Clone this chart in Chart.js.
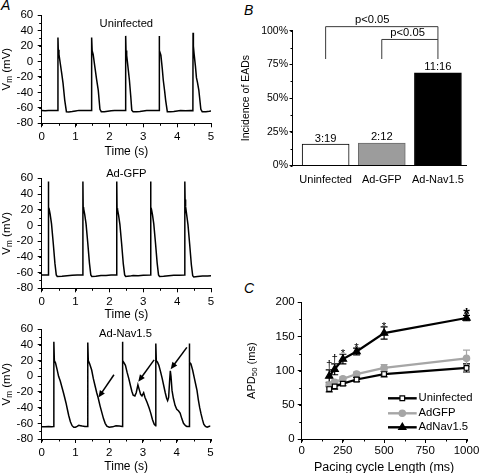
<!DOCTYPE html>
<html>
<head>
<meta charset="utf-8">
<script src="https://cdn.jsdelivr.net/npm/chart.js@4.4.1/dist/chart.umd.min.js"></script>
<style>
  html, body { margin: 0; padding: 0; background: #fff; overflow: hidden; }
  body { width: 480px; height: 473px; position: relative; font-family: "Liberation Sans", Arial, sans-serif; }
  canvas { position: absolute; }
  .panel { position: absolute; font-style: italic; font-size: 14px; line-height: 14px; }
</style>
</head>
<body>
<div class="panel" style="left:1px;top:-2px">A</div>
<div class="panel" style="left:244px;top:3px">B</div>
<div class="panel" style="left:244px;top:281px">C</div>
<canvas id="apUninfected"></canvas>
<canvas id="apGfp"></canvas>
<canvas id="apNav"></canvas>
<canvas id="eadBars"></canvas>
<canvas id="apdCurve"></canvas>
<script>
const FONT = '"Liberation Sans", Arial, sans-serif';

// membrane potential traces, [time (s), Vm (mV)]
const uninfectedTrace = [
  [0, -63.5], [0.1, -63.8], [0.2, -63.3], [0.3, -63.6], [0.4, -63.4], [0.475, -63.6],
  [0.48, 31], [0.49, 15], [0.51, 9], [0.55, -3], [0.59, -15], [0.63, -28], [0.68, -50], [0.73, -65],
  [0.8, -65.3], [0.9, -64.8], [1.0, -64], [1.1, -63.3], [1.2, -63.6], [1.3, -63.4], [1.4, -63.5], [1.47, -63.6],
  [1.475, 31], [1.49, 14], [1.52, 9], [1.57, -7], [1.62, -23], [1.67, -37], [1.72, -62], [1.76, -65],
  [1.85, -65.2], [1.95, -64.5], [2.05, -63.8], [2.15, -63.4], [2.3, -63.6], [2.475, -63.5],
  [2.48, 33], [2.49, 14], [2.51, 8], [2.55, -8], [2.59, -24], [2.63, -45], [2.66, -63], [2.7, -65],
  [2.8, -65], [2.9, -64.6], [3.0, -64], [3.1, -63.4], [3.25, -63.6], [3.4, -63.4], [3.465, -63.6],
  [3.47, 33], [3.48, 14], [3.52, 8], [3.56, -9], [3.59, -24], [3.63, -38], [3.66, -50], [3.71, -65],
  [3.8, -65.2], [3.9, -64.8], [4.0, -64], [4.1, -63.4], [4.25, -63.7], [4.4, -63.4], [4.465, -63.6],
  [4.47, 37], [4.48, 20], [4.5, 10], [4.54, -6], [4.57, -21], [4.6, -27], [4.64, -37], [4.7, -62], [4.74, -65],
  [4.85, -65], [4.95, -64.5], [5.0, -64.2]
];
const gfpTrace = [
  [0, -63], [0.1, -63.2], [0.19, -63],
  [0.197, 56], [0.205, 23], [0.22, 21], [0.25, 14], [0.29, 2], [0.34, -22], [0.39, -48], [0.43, -63], [0.46, -65],
  [0.6, -64.8], [0.75, -64], [0.9, -63.5], [1.05, -63.2], [1.21, -63],
  [1.217, 56], [1.225, 23], [1.24, 21], [1.27, 14], [1.31, 2], [1.36, -22], [1.41, -48], [1.45, -63], [1.48, -65],
  [1.6, -64.8], [1.75, -63.6], [1.9, -63.8], [2.05, -63.2], [2.21, -63],
  [2.217, 56], [2.225, 22], [2.24, 20], [2.27, 13], [2.31, 1], [2.36, -23], [2.41, -49], [2.45, -63], [2.48, -65],
  [2.6, -64.5], [2.7, -63.7], [2.85, -64], [3.0, -63.5], [3.21, -63],
  [3.217, 56], [3.225, 23], [3.24, 21], [3.27, 14], [3.31, 2], [3.36, -22], [3.41, -48], [3.45, -63], [3.48, -65],
  [3.6, -64.8], [3.75, -64], [3.9, -63.5], [4.05, -63.4], [4.22, -63.2],
  [4.227, 56], [4.235, 33], [4.25, 24], [4.28, 14], [4.32, 1], [4.37, -24], [4.42, -50], [4.46, -64], [4.49, -65.5],
  [4.6, -65], [4.75, -64.5], [4.9, -64.2], [5.0, -64]
];
const nav15Trace = [
  [0, -64.5], [0.1, -64.5], [0.2, -64], [0.3, -64.5], [0.355, -64],
  [0.36, 44], [0.375, 20], [0.41, 17], [0.46, 8], [0.5, 0], [0.55, -6], [0.6, -14], [0.65, -22], [0.68, -27],
  [0.72, -34], [0.76, -42], [0.8, -50], [0.85, -58], [0.9, -63], [0.95, -65],
  [1.0, -65], [1.05, -64], [1.1, -62.5], [1.15, -63], [1.2, -63.5], [1.28, -64], [1.36, -64],
  [1.365, 43], [1.38, 20], [1.42, 16], [1.48, 8], [1.53, -3], [1.58, -12], [1.63, -21], [1.67, -27],
  [1.73, -38], [1.78, -46], [1.83, -54], [1.88, -60], [1.93, -63.5], [2.0, -65],
  [2.1, -64.5], [2.2, -63], [2.3, -63.5], [2.385, -64],
  [2.39, 44], [2.405, 20], [2.44, 17], [2.48, 14], [2.53, 5], [2.58, -3], [2.63, -12], [2.67, -19], [2.71, -24],
  [2.76, -25], [2.8, -21], [2.85, -11], [2.89, -17], [2.93, -23], [2.97, -25], [3.02, -21], [3.06, -27],
  [3.12, -33], [3.18, -40], [3.23, -47], [3.28, -55], [3.33, -61], [3.375, -63],
  [3.38, 42], [3.395, 20], [3.43, 18], [3.47, 14], [3.52, 6], [3.57, -3], [3.62, -13], [3.66, -21], [3.7, -28],
  [3.73, -31], [3.76, -27], [3.79, -5], [3.81, 7], [3.83, 0], [3.86, -18], [3.9, -28], [3.95, -37], [4.0, -42],
  [4.05, -44], [4.1, -47], [4.15, -54], [4.2, -60], [4.26, -63], [4.3, -64], [4.365, -64],
  [4.37, 42], [4.385, 18], [4.42, 16], [4.47, 8], [4.52, -2], [4.57, -12], [4.6, -18], [4.64, -30], [4.68, -40],
  [4.72, -48], [4.76, -55], [4.8, -61], [4.85, -64], [4.9, -65], [4.95, -64], [5.0, -63.5]
];
// arrows pointing at the EADs: [tail t, tail V, head t, head V]
const eadArrows = [[2.14, 2, 1.68, -27], [3.33, 21, 2.86, -7], [4.3, 37, 3.82, 9]];

// incidence of EADs
const groups = ['Uninfected', 'Ad-GFP', 'Ad-Nav1.5'];
const eadIncidence = [15.8, 16.7, 68.75];
const eadCounts = ['3:19', '2:12', '11:16'];

// APD50 against pacing cycle length
const cycleLengths = [167, 200, 250, 333, 500, 1000];
const apdUninfected = [73, 77, 81, 87, 95, 104];
const apdUninfectedErr = [4, 4, 3, 3, 4, 6];
const apdGfp = [79, 83, 88, 95, 104, 118];
const apdGfpErr = [3, 3, 3, 3, 5, 12];
const apdNav15 = [92, 102, 117, 128, 155, 177];
const apdNav15Err = [9, 8, 7, 5, 9, 4];
const sigMarks = ['†', '†', '*', '*', '*', '*'];

Chart.defaults.font.family = FONT;
Chart.defaults.font.size = 11;
Chart.defaults.color = '#000';
Chart.defaults.animation = false;
Chart.defaults.plugins.legend.display = false;
Chart.defaults.plugins.tooltip.enabled = false;

function axis(min, max, step, tickFont, tl, pad) {
  return {
    type: 'linear', min, max, offset: false,
    ticks: {stepSize: step, font: {size: tickFont}, padding: pad, color: '#000',
      autoSkip: false, maxRotation: 0, minRotation: 0, callback: (v) => String(v)},
    grid: {drawOnChartArea: false, tickLength: tl, color: '#000', lineWidth: 1},
    border: {color: '#000', width: 1}
  };
}

// canvas box and wanted plot area, both in page pixels
function place(id, box, area, config) {
  const cv = document.getElementById(id);
  cv.width = box.w;
  cv.height = box.h;
  cv.style.left = box.x + 'px';
  cv.style.top = box.y + 'px';
  const yw = area.l - box.x;
  const xh = box.y + box.h - area.b;
  config.options.responsive = false;
  config.options.devicePixelRatio = 1;
  config.options.layout = {padding: {left: 0, bottom: 0, top: area.t - box.y, right: box.x + box.w - area.r}};
  config.options.scales.x.afterFit = (s) => { s.height = xh; };
  config.options.scales.y.afterFit = (s) => { s.width = yw; };
  return new Chart(cv, config);
}

function minorTicks(chart, xStep, yStep, len) {
  const {ctx, chartArea: a, scales: {x, y}} = chart;
  ctx.save();
  ctx.strokeStyle = '#000';
  ctx.lineWidth = 1;
  ctx.beginPath();
  if (xStep) {
    for (let v = x.min; v <= x.max + 1e-9; v += xStep) {
      const px = Math.round(x.getPixelForValue(v)) + 0.5;
      ctx.moveTo(px, a.bottom);
      ctx.lineTo(px, a.bottom + len);
    }
  }
  for (let v = y.min; v <= y.max + 1e-9; v += yStep) {
    const py = Math.round(y.getPixelForValue(v)) + 0.5;
    ctx.moveTo(a.left, py);
    ctx.lineTo(a.left - len, py);
  }
  ctx.stroke();
  ctx.restore();
}

// rotated axis title, parts = [[text, isSubscript], ...]
function yTitle(chart, parts, cx, size) {
  const {ctx, chartArea: a} = chart;
  const sub = size * 0.72;
  ctx.save();
  ctx.translate(cx, (a.top + a.bottom) / 2);
  ctx.rotate(-Math.PI / 2);
  ctx.fillStyle = '#000';
  ctx.textBaseline = 'middle';
  let total = 0;
  parts.forEach((p) => { ctx.font = (p[1] ? sub : size) + 'px ' + FONT; total += ctx.measureText(p[0]).width; });
  let x = -total / 2;
  parts.forEach((p) => {
    ctx.font = (p[1] ? sub : size) + 'px ' + FONT;
    ctx.fillText(p[0], x, p[1] ? size * 0.3 : 0);
    x += ctx.measureText(p[0]).width;
  });
  ctx.restore();
}

function traceChart(id, box, area, trace, title, arrows) {
  return place(id, box, area, {
    type: 'scatter',
    data: {datasets: [{
      data: trace.map((p) => ({x: p[0], y: p[1]})),
      showLine: true, borderColor: '#000', borderWidth: 1.5, pointRadius: 0, tension: 0
    }]},
    options: {
      scales: {
        x: Object.assign(axis(0, 5, 1, 11.5, 4, 2.6), {
          title: {display: true, text: 'Time (s)', font: {size: 12}, padding: 0, color: '#000'}
        }),
        y: axis(-80, 60, 20, 11.5, 4, 4.5)
      }
    },
    plugins: [{
      id: 'traceDecor',
      afterDraw(chart) {
        const {ctx, scales: {x, y}} = chart;
        minorTicks(chart, 0.5, 10, 2.5);
        yTitle(chart, [['V'], ['m', true], [' (mV)']], chart.chartArea.left - 35, 11.5);
        ctx.save();
        ctx.fillStyle = '#000';
        ctx.font = '11.2px ' + FONT;
        ctx.textAlign = 'center';
        ctx.textBaseline = 'middle';
        ctx.fillText(title[0], x.getPixelForValue(title[1]), y.getPixelForValue(title[2]));
        (arrows || []).forEach((ar) => {
          const x0 = x.getPixelForValue(ar[0]), y0 = y.getPixelForValue(ar[1]);
          const x1 = x.getPixelForValue(ar[2]), y1 = y.getPixelForValue(ar[3]);
          const ang = Math.atan2(y1 - y0, x1 - x0);
          const hl = 7, hw = 3;
          ctx.strokeStyle = '#000';
          ctx.lineWidth = 1.5;
          ctx.beginPath();
          ctx.moveTo(x0, y0);
          ctx.lineTo(x1 - Math.cos(ang) * hl * 0.8, y1 - Math.sin(ang) * hl * 0.8);
          ctx.stroke();
          ctx.beginPath();
          ctx.moveTo(x1, y1);
          ctx.lineTo(x1 - Math.cos(ang) * hl - Math.sin(ang) * hw, y1 - Math.sin(ang) * hl + Math.cos(ang) * hw);
          ctx.lineTo(x1 - Math.cos(ang) * hl + Math.sin(ang) * hw, y1 - Math.sin(ang) * hl - Math.cos(ang) * hw);
          ctx.closePath();
          ctx.fill();
        });
        ctx.restore();
      }
    }]
  });
}

traceChart('apUninfected', {x: 0, y: 3, w: 223, h: 156}, {l: 41.7, t: 15, r: 211, b: 123.3},
  uninfectedTrace, ['Uninfected', 2.5, 48.4]);
traceChart('apGfp', {x: 0, y: 166, w: 223, h: 156}, {l: 41.7, t: 178.3, r: 211, b: 288.3},
  gfpTrace, ['Ad-GFP', 2.5, 65.5]);
traceChart('apNav', {x: 0, y: 317, w: 223, h: 157}, {l: 41.7, t: 329.3, r: 210.5, b: 439},
  nav15Trace, ['Ad-Nav1.5', 2.48, 54], eadArrows);

// B: incidence of EADs
const barX = axis(0.41, 3.5, 1, 11, 0, 8);
barX.grid.drawTicks = false;
barX.afterBuildTicks = (s) => { s.ticks = groups.map((g, i) => ({value: i + 1})); };
barX.ticks.callback = (v) => groups[v - 1];
const barY = axis(0, 100, 25, 10.5, 3, 1.5);
barY.ticks.callback = (v) => v + '%';

place('eadBars', {x: 238, y: 10, w: 242, h: 180}, {l: 292.5, t: 30.7, r: 466, b: 165.5}, {
  type: 'bar',
  data: {datasets: [{
    data: eadIncidence.map((v, i) => ({x: i + 1, y: v})),
    backgroundColor: ['#ffffff', '#9c9c9c', '#000000'],
    borderColor: ['#000000', '#6a6a6a', '#000000'],
    borderWidth: 1,
    barThickness: 47
  }]},
  options: {scales: {x: barX, y: barY}},
  plugins: [{
    id: 'barDecor',
    afterDraw(chart) {
      const {ctx, scales: {x, y}} = chart;
      minorTicks(chart, 0, 12.5, 2);
      yTitle(chart, [['Incidence of EADs']], chart.chartArea.left - 46.5, 10.5);
      ctx.save();
      ctx.fillStyle = '#000';
      ctx.font = '11.2px ' + FONT;
      ctx.textAlign = 'center';
      ctx.textBaseline = 'alphabetic';
      chart.getDatasetMeta(0).data.forEach((bar, i) => {
        ctx.fillText(eadCounts[i], bar.x, bar.y - 2.5);
      });
      // significance brackets
      const px = (v) => x.getPixelForValue(v);
      const py = (v) => y.getPixelForValue(v);
      ctx.strokeStyle = '#3a3a3a';
      ctx.lineWidth = 1;
      ctx.beginPath();
      ctx.moveTo(px(1), py(79));
      ctx.lineTo(px(1), py(103));
      ctx.lineTo(px(3), py(103));
      ctx.lineTo(px(3), py(79));
      ctx.moveTo(px(2), py(79));
      ctx.lineTo(px(2), py(93.5));
      ctx.lineTo(px(3), py(93.5));
      ctx.stroke();
      ctx.fillText('p<0.05', px(1.83), py(103) - 3.5);
      ctx.fillText('p<0.05', px(2.46), py(93.5) - 3.5);
      ctx.restore();
    }
  }]
});

// C: APD50 against pacing cycle length
const apdX = axis(0, 1000, 250, 11.5, 4, 1);
apdX.title = {display: true, text: 'Pacing cycle Length (ms)', font: {size: 12.5}, padding: 0, color: '#000'};
const apdY = axis(0, 200, 50, 11.5, 4, 3);

const apdSets = [
  {label: 'Uninfected', values: apdUninfected, err: apdUninfectedErr, color: '#000', fill: '#fff', style: 'rect', r: 3.3},
  {label: 'AdGFP', values: apdGfp, err: apdGfpErr, color: '#a6a6a6', fill: '#a6a6a6', style: 'circle', r: 3.2},
  {label: 'AdNav1.5', values: apdNav15, err: apdNav15Err, color: '#000', fill: '#000', style: 'triangle', r: 4.2}
];

place('apdCurve', {x: 242, y: 292, w: 243, h: 183}, {l: 301.7, t: 302.3, r: 466.5, b: 439}, {
  type: 'scatter',
  data: {datasets: apdSets.map((s) => ({
    label: s.label,
    data: s.values.map((v, i) => ({x: cycleLengths[i], y: v})),
    showLine: true, borderColor: s.color, borderWidth: 2.2, tension: 0,
    pointStyle: s.style, pointRadius: s.r, pointBackgroundColor: s.fill,
    pointBorderColor: s.color, pointBorderWidth: 1.2, clip: false
  }))},
  options: {scales: {x: apdX, y: apdY}},
  plugins: [{
    id: 'apdDecor',
    beforeDatasetsDraw(chart) {
      const {ctx, scales: {x, y}} = chart;
      ctx.save();
      ctx.lineWidth = 1.2;
      apdSets.forEach((s) => {
        ctx.strokeStyle = s.color;
        ctx.beginPath();
        s.values.forEach((v, i) => {
          const cx = x.getPixelForValue(cycleLengths[i]);
          const hi = y.getPixelForValue(v + s.err[i]);
          const lo = y.getPixelForValue(v - s.err[i]);
          ctx.moveTo(cx, hi); ctx.lineTo(cx, lo);
          ctx.moveTo(cx - 3.5, hi); ctx.lineTo(cx + 3.5, hi);
          ctx.moveTo(cx - 3.5, lo); ctx.lineTo(cx + 3.5, lo);
        });
        ctx.stroke();
      });
      ctx.restore();
    },
    afterDraw(chart) {
      const {ctx, scales: {x, y}} = chart;
      minorTicks(chart, 125, 25, 2.5);
      yTitle(chart, [['APD'], ['50', true], [' (ms)']], chart.chartArea.left - 50, 11);
      ctx.save();
      ctx.fillStyle = '#000';
      ctx.textAlign = 'center';
      ctx.textBaseline = 'alphabetic';
      sigMarks.forEach((m, i) => {
        const cx = x.getPixelForValue(cycleLengths[i]);
        const top = y.getPixelForValue(apdNav15[i] + apdNav15Err[i]);
        if (m === '†') {
          ctx.font = '11.5px ' + FONT;
          ctx.fillText(m, cx, top - 1.5);
        } else if (i === sigMarks.length - 1) {
          ctx.font = 'bold 17px ' + FONT;
          ctx.fillText(m, cx, top + 5);
        } else {
          ctx.font = '11.5px ' + FONT;
          ctx.fillText(m, cx, top + 3);
        }
      });
      // legend
      const ox = 242, oy = 292;
      ctx.textAlign = 'left';
      ctx.textBaseline = 'middle';
      ctx.font = '11.3px ' + FONT;
      [398.3, 413.3, 427.3].forEach((ly, i) => {
        const s = apdSets[i];
        ctx.strokeStyle = s.color;
        ctx.lineWidth = 2.4;
        ctx.beginPath();
        ctx.moveTo(388 - ox, ly - oy);
        ctx.lineTo(416.7 - ox, ly - oy);
        ctx.stroke();
        ctx.fillStyle = s.fill;
        ctx.strokeStyle = s.color;
        ctx.lineWidth = 1.2;
        Chart.helpers.drawPoint(ctx, {pointStyle: s.style, radius: s.r, rotation: 0, borderWidth: 1.2}, 402.3 - ox, ly - oy);
        ctx.fillStyle = '#000';
        ctx.fillText(s.label, 418.5 - ox, ly - oy);
      });
      ctx.restore();
    }
  }]
});
</script>
</body>
</html>
